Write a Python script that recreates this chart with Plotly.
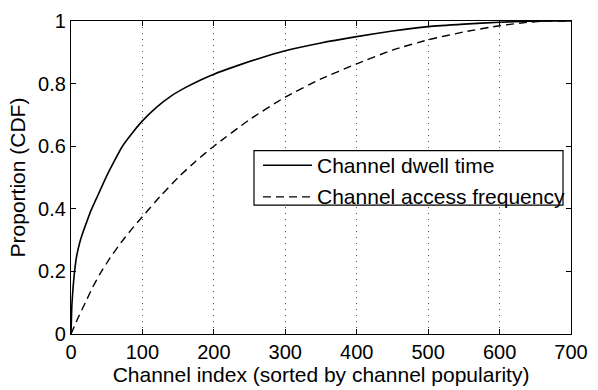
import plotly.graph_objects as go

# Channel index (sorted by popularity) and CDF of dwell time
dwell_x = [0, 1, 2, 3, 5, 8, 12, 16, 21.5, 28, 35, 40, 50, 60, 72, 85, 100, 120, 140,
           160, 180, 200, 230, 260, 300, 350, 400, 450, 500, 550, 600, 640, 670, 700]
dwell_y = [0, 0.08, 0.12, 0.15, 0.2, 0.25, 0.29, 0.32, 0.355, 0.395, 0.43, 0.455, 0.505,
           0.55, 0.6, 0.64, 0.681, 0.725, 0.76, 0.787, 0.81, 0.83, 0.855, 0.878, 0.905,
           0.93, 0.95, 0.968, 0.982, 0.99, 0.996, 0.999, 1.0, 1.0]

# CDF of access frequency
access_x = [0, 10, 20, 30, 40, 55, 70, 85, 100, 125, 150, 175, 200, 250, 300, 350, 400,
            450, 500, 550, 600, 640, 667, 700]
access_y = [0, 0.052, 0.1, 0.148, 0.19, 0.244, 0.292, 0.335, 0.375, 0.44, 0.5, 0.553,
            0.6, 0.685, 0.757, 0.815, 0.863, 0.907, 0.94, 0.965, 0.985, 0.996, 1.0, 1.0]

series_names = ["Channel dwell time", "Channel access frequency"]

x_ticks = [0, 100, 200, 300, 400, 500, 600, 700]
y_ticks = [0, 0.2, 0.4, 0.6, 0.8, 1]

font_family = "Liberation Sans, Arial, Helvetica, sans-serif"
solid = dict(color="black", width=1.6)
dashed = dict(color="black", width=1.4, dash="8px,5px")

fig = go.Figure()
fig.add_trace(go.Scatter(x=dwell_x, y=dwell_y, mode="lines", name=series_names[0],
                         line=dict(**solid, shape="spline", smoothing=0.5),
                         showlegend=False))
fig.add_trace(go.Scatter(x=access_x, y=access_y, mode="lines", name=series_names[1],
                         line=dict(**dashed, shape="spline", smoothing=0.5),
                         showlegend=False))

axis_common = dict(
    showline=True, linecolor="black", linewidth=1.2, mirror="ticks",
    ticks="inside", ticklen=5, tickcolor="black", tickwidth=1,
    zeroline=False, tickfont=dict(size=20, color="black", family=font_family),
)

fig.update_xaxes(
    range=[0, 700], tickvals=x_ticks,
    showgrid=True, gridcolor="#555555", gridwidth=1, griddash="1px,5px",
    title=dict(text="Channel index (sorted by channel popularity)",
               font=dict(size=21, color="black", family=font_family), standoff=2),
    **axis_common,
)
fig.update_yaxes(
    range=[0, 1], tickvals=y_ticks, showgrid=False,
    title=dict(text="Proportion (CDF)",
               font=dict(size=21, color="black", family=font_family), standoff=6),
    **axis_common,
)

# Boxed legend in the lower-right part of the plot (paper coordinates)
box_x0, box_x1, box_y0, box_y1 = 0.366, 0.984, 0.412, 0.586
row_y = [0.539, 0.438]
sample_x0, sample_x1, text_x = 0.384, 0.482, 0.488
fig.add_shape(type="rect", xref="paper", yref="paper",
              x0=box_x0, x1=box_x1, y0=box_y0, y1=box_y1,
              line=dict(color="black", width=1.2), fillcolor="white", layer="above")
for name, style, ry in zip(series_names, [solid, dashed], row_y):
    fig.add_shape(type="line", xref="paper", yref="paper",
                  x0=sample_x0, x1=sample_x1, y0=ry, y1=ry, line=style, layer="above")
    fig.add_annotation(xref="paper", yref="paper", x=text_x, y=ry, text=name,
                       showarrow=False, xanchor="left", yanchor="middle",
                       font=dict(size=21, color="black", family=font_family))

fig.update_layout(
    width=598, height=390,
    margin=dict(l=71, r=17, t=10, b=56),
    paper_bgcolor="white", plot_bgcolor="white",
    font=dict(family=font_family, color="black"),
    showlegend=False,
)

fig.write_html("out.html")
